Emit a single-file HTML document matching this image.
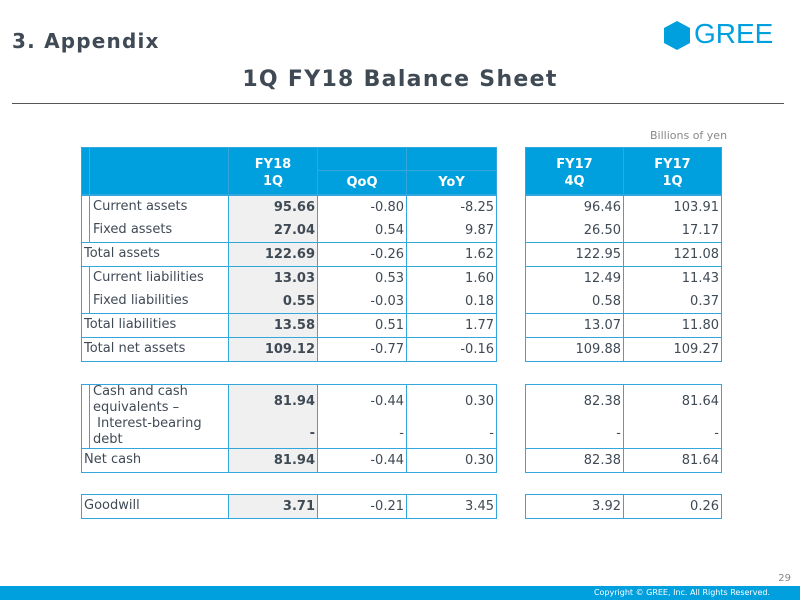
<!DOCTYPE html>
<html><head><meta charset="utf-8"><style>
body{margin:0;width:800px;height:600px;position:relative;background:#fff;font-family:"DejaVu Sans","Liberation Sans",sans-serif;color:#404a55;overflow:hidden}
.b{position:absolute;border:1px solid #33a6dc;box-sizing:border-box}
.g{background:#f0f0f0}
.h{background:#009fde;color:#fff;font-weight:bold;font-size:13px;text-align:center}
.t{position:absolute;font-size:13px;white-space:nowrap;line-height:16px}
.r{text-align:right}
.bd{font-weight:bold}
</style></head><body>
<div style="position:absolute;left:12px;top:29px;font-size:20px;font-weight:bold;color:#404a55;letter-spacing:1.2px">3. Appendix</div>
<div style="position:absolute;left:0;width:800px;top:67px;text-align:center;font-size:22px;font-weight:bold;color:#404a55;letter-spacing:1.3px">1Q FY18 Balance Sheet</div>
<div style="position:absolute;left:12px;width:772px;top:103px;height:1px;background:#555"></div>
<svg style="position:absolute;left:662px;top:20px" width="30" height="30" viewBox="0 0 30 30"><polygon points="15,1 28,8 28,23 15,30 2,23 2,8" fill="#009fde"/></svg>
<div style="position:absolute;left:694px;top:18px;font-size:28px;color:#009fde;font-family:'Liberation Sans',sans-serif">GREE</div>
<div class="t" style="left:650px;top:128px;font-size:11px;color:#888">Billions of yen</div>

<div class="b h" style="left:81px;top:147px;width:148px;height:48px"></div>
<div class="b" style="left:89px;top:147px;width:140px;height:48px;border-color:#33b0e6;border-width:0 0 0 1px"></div>
<div class="b h" style="left:228px;top:147px;width:90px;height:48px;padding-top:8px;line-height:17px">FY18<br>1Q</div>
<div class="b h" style="left:317px;top:147px;width:90px;height:24px"></div>
<div class="b h" style="left:406px;top:147px;width:91px;height:24px"></div>
<div class="b h" style="left:317px;top:170px;width:90px;height:25px;line-height:24px">QoQ</div>
<div class="b h" style="left:406px;top:170px;width:91px;height:25px;line-height:24px">YoY</div>
<div class="b h" style="left:525px;top:147px;width:99px;height:48px;padding-top:8px;line-height:17px">FY17<br>4Q</div>
<div class="b h" style="left:623px;top:147px;width:99px;height:48px;padding-top:8px;line-height:17px">FY17<br>1Q</div>

<div class="b" style="left:81px;top:195px;width:148px;height:48px"></div>
<div class="b" style="left:89px;top:195px;width:140px;height:48px"></div>
<div class="b g" style="left:228px;top:195px;width:90px;height:48px"></div>
<div class="b" style="left:317px;top:195px;width:90px;height:48px"></div>
<div class="b" style="left:406px;top:195px;width:91px;height:48px"></div>
<div class="b" style="left:525px;top:195px;width:99px;height:48px"></div>
<div class="b" style="left:623px;top:195px;width:99px;height:48px"></div>
<div class="b" style="left:81px;top:242px;width:148px;height:25px"></div>
<div class="b g" style="left:228px;top:242px;width:90px;height:25px"></div>
<div class="b" style="left:317px;top:242px;width:90px;height:25px"></div>
<div class="b" style="left:406px;top:242px;width:91px;height:25px"></div>
<div class="b" style="left:525px;top:242px;width:99px;height:25px"></div>
<div class="b" style="left:623px;top:242px;width:99px;height:25px"></div>
<div class="b" style="left:81px;top:266px;width:148px;height:48px"></div>
<div class="b" style="left:89px;top:266px;width:140px;height:48px"></div>
<div class="b g" style="left:228px;top:266px;width:90px;height:48px"></div>
<div class="b" style="left:317px;top:266px;width:90px;height:48px"></div>
<div class="b" style="left:406px;top:266px;width:91px;height:48px"></div>
<div class="b" style="left:525px;top:266px;width:99px;height:48px"></div>
<div class="b" style="left:623px;top:266px;width:99px;height:48px"></div>
<div class="b" style="left:81px;top:313px;width:148px;height:25px"></div>
<div class="b g" style="left:228px;top:313px;width:90px;height:25px"></div>
<div class="b" style="left:317px;top:313px;width:90px;height:25px"></div>
<div class="b" style="left:406px;top:313px;width:91px;height:25px"></div>
<div class="b" style="left:525px;top:313px;width:99px;height:25px"></div>
<div class="b" style="left:623px;top:313px;width:99px;height:25px"></div>
<div class="b" style="left:81px;top:337px;width:148px;height:25px"></div>
<div class="b g" style="left:228px;top:337px;width:90px;height:25px"></div>
<div class="b" style="left:317px;top:337px;width:90px;height:25px"></div>
<div class="b" style="left:406px;top:337px;width:91px;height:25px"></div>
<div class="b" style="left:525px;top:337px;width:99px;height:25px"></div>
<div class="b" style="left:623px;top:337px;width:99px;height:25px"></div>
<div class="b" style="left:81px;top:384px;width:148px;height:65px"></div>
<div class="b" style="left:89px;top:384px;width:140px;height:65px"></div>
<div class="b g" style="left:228px;top:384px;width:90px;height:65px"></div>
<div class="b" style="left:317px;top:384px;width:90px;height:65px"></div>
<div class="b" style="left:406px;top:384px;width:91px;height:65px"></div>
<div class="b" style="left:525px;top:384px;width:99px;height:65px"></div>
<div class="b" style="left:623px;top:384px;width:99px;height:65px"></div>
<div class="b" style="left:81px;top:448px;width:148px;height:25px"></div>
<div class="b g" style="left:228px;top:448px;width:90px;height:25px"></div>
<div class="b" style="left:317px;top:448px;width:90px;height:25px"></div>
<div class="b" style="left:406px;top:448px;width:91px;height:25px"></div>
<div class="b" style="left:525px;top:448px;width:99px;height:25px"></div>
<div class="b" style="left:623px;top:448px;width:99px;height:25px"></div>
<div class="b" style="left:81px;top:494px;width:148px;height:25px"></div>
<div class="b g" style="left:228px;top:494px;width:90px;height:25px"></div>
<div class="b" style="left:317px;top:494px;width:90px;height:25px"></div>
<div class="b" style="left:406px;top:494px;width:91px;height:25px"></div>
<div class="b" style="left:525px;top:494px;width:99px;height:25px"></div>
<div class="b" style="left:623px;top:494px;width:99px;height:25px"></div>

<div class="t" style="left:93px;top:199px">Current assets</div>
<div class="t r bd" style="right:485px;top:200px">95.66</div><div class="t r" style="right:396px;top:200px">-0.80</div><div class="t r" style="right:306px;top:200px">-8.25</div><div class="t r" style="right:179px;top:200px">96.46</div><div class="t r" style="right:81px;top:200px">103.91</div>

<div class="t" style="left:93px;top:222px">Fixed assets</div>
<div class="t r bd" style="right:485px;top:223px">27.04</div><div class="t r" style="right:396px;top:223px">0.54</div><div class="t r" style="right:306px;top:223px">9.87</div><div class="t r" style="right:179px;top:223px">26.50</div><div class="t r" style="right:81px;top:223px">17.17</div>

<div class="t" style="left:84px;top:246px">Total assets</div>
<div class="t r bd" style="right:485px;top:247px">122.69</div><div class="t r" style="right:396px;top:247px">-0.26</div><div class="t r" style="right:306px;top:247px">1.62</div><div class="t r" style="right:179px;top:247px">122.95</div><div class="t r" style="right:81px;top:247px">121.08</div>

<div class="t" style="left:93px;top:270px">Current liabilities</div>
<div class="t r bd" style="right:485px;top:271px">13.03</div><div class="t r" style="right:396px;top:271px">0.53</div><div class="t r" style="right:306px;top:271px">1.60</div><div class="t r" style="right:179px;top:271px">12.49</div><div class="t r" style="right:81px;top:271px">11.43</div>

<div class="t" style="left:93px;top:293px">Fixed liabilities</div>
<div class="t r bd" style="right:485px;top:294px">0.55</div><div class="t r" style="right:396px;top:294px">-0.03</div><div class="t r" style="right:306px;top:294px">0.18</div><div class="t r" style="right:179px;top:294px">0.58</div><div class="t r" style="right:81px;top:294px">0.37</div>

<div class="t" style="left:84px;top:317px">Total liabilities</div>
<div class="t r bd" style="right:485px;top:318px">13.58</div><div class="t r" style="right:396px;top:318px">0.51</div><div class="t r" style="right:306px;top:318px">1.77</div><div class="t r" style="right:179px;top:318px">13.07</div><div class="t r" style="right:81px;top:318px">11.80</div>

<div class="t" style="left:84px;top:341px">Total net assets</div>
<div class="t r bd" style="right:485px;top:342px">109.12</div><div class="t r" style="right:396px;top:342px">-0.77</div><div class="t r" style="right:306px;top:342px">-0.16</div><div class="t r" style="right:179px;top:342px">109.88</div><div class="t r" style="right:81px;top:342px">109.27</div>

<div class="t" style="left:93px;top:384px">Cash and cash</div>
<div class="t" style="left:93px;top:400px">equivalents –</div>
<div class="t" style="left:93px;top:416px">&nbsp;Interest-bearing</div>
<div class="t" style="left:93px;top:432px">debt</div>
<div class="t r bd" style="right:485px;top:394px">81.94</div><div class="t r" style="right:396px;top:394px">-0.44</div><div class="t r" style="right:306px;top:394px">0.30</div><div class="t r" style="right:179px;top:394px">82.38</div><div class="t r" style="right:81px;top:394px">81.64</div>
<div class="t r bd" style="right:485px;top:426px">-</div><div class="t r" style="right:396px;top:426px">-</div><div class="t r" style="right:306px;top:426px">-</div><div class="t r" style="right:179px;top:426px">-</div><div class="t r" style="right:81px;top:426px">-</div>

<div class="t" style="left:84px;top:452px">Net cash</div>
<div class="t r bd" style="right:485px;top:453px">81.94</div><div class="t r" style="right:396px;top:453px">-0.44</div><div class="t r" style="right:306px;top:453px">0.30</div><div class="t r" style="right:179px;top:453px">82.38</div><div class="t r" style="right:81px;top:453px">81.64</div>

<div class="t" style="left:84px;top:498px">Goodwill</div>
<div class="t r bd" style="right:485px;top:499px">3.71</div><div class="t r" style="right:396px;top:499px">-0.21</div><div class="t r" style="right:306px;top:499px">3.45</div><div class="t r" style="right:179px;top:499px">3.92</div><div class="t r" style="right:81px;top:499px">0.26</div>

<div class="t" style="right:9px;top:571px;font-size:10px;color:#888">29</div>
<div style="position:absolute;left:0;top:586px;width:800px;height:14px;background:#009fde"></div>
<div class="t" style="right:30px;top:587px;font-size:8px;line-height:12px;color:#fff">Copyright © GREE, Inc. All Rights Reserved.</div>
</body></html>
